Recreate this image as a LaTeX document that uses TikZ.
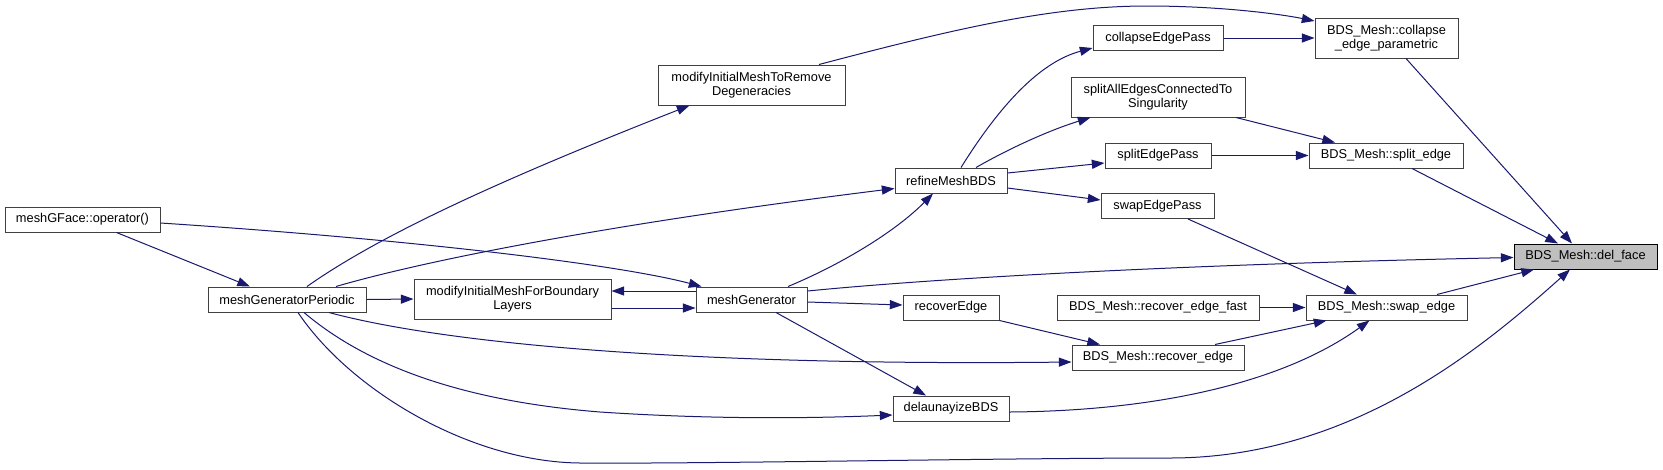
\documentclass[tikz,border=0pt]{standalone}
\usepackage{fontspec}
\setmainfont{Liberation Sans}
\usetikzlibrary{arrows.meta,calc}
\definecolor{edgecol}{HTML}{191970}
\definecolor{bordercol}{HTML}{404040}
\definecolor{rootfill}{HTML}{BFBFBF}
\begin{document}
\begin{tikzpicture}[x=0.75pt,y=-0.75pt,
  bx/.style 2 args={draw=bordercol, line width=0.75pt, fill=white, inner sep=0pt,
    minimum width=#1*0.75pt, minimum height=#2*0.75pt, align=center,
    font=\fontsize{9.6}{10.6}\selectfont},
  rootbx/.style 2 args={bx={#1}{#2}, draw=black, fill=rootfill},
  e/.style={draw=edgecol, line width=0.75pt, -{Triangle[length=9.5pt,width=6.8pt]}}]
\useasboundingbox (0,0) rectangle (1663,469);
\fill[white] (0,0) rectangle (1663,469);
% nodes
\node[bx={155}{25}] (opr) at (82.5,219.5) {meshGFace::operator()};
\node[bx={158}{25}] (mgp) at (287,299.5) {meshGeneratorPeriodic};
\node[bx={197}{40}] (mbl) at (512.5,299) {modifyInitialMeshForBoundary\\Layers};
\node[bx={187}{40}] (mrd) at (751.5,85) {modifyInitialMeshToRemove\\Degeneracies};
\node[bx={111}{25}] (mg) at (751.5,299.5) {meshGenerator};
\node[bx={112}{25}] (rmb) at (951,180.5) {refineMeshBDS};
\node[bx={96}{25}] (re) at (951,307.5) {recoverEdge};
\node[bx={116}{25}] (dl) at (951,408.5) {delaunayizeBDS};
\node[bx={130}{25}] (cep) at (1158,38) {collapseEdgePass};
\node[bx={174}{40}] (sae) at (1158,97) {splitAllEdgesConnectedTo\\Singularity};
\node[bx={106}{25}] (sep) at (1158,155.5) {splitEdgePass};
\node[bx={113}{25}] (swp) at (1157.5,206) {swapEdgePass};
\node[bx={202}{25}] (ref) at (1158,307.5) {BDS\_Mesh::recover\_edge\_fast};
\node[bx={172}{25}] (rec) at (1158,357.5) {BDS\_Mesh::recover\_edge};
\node[bx={143}{40}] (cp) at (1386.5,38) {BDS\_Mesh::collapse\\\_edge\_parametric};
\node[bx={154}{25}] (se) at (1386,155.5) {BDS\_Mesh::split\_edge};
\node[bx={161}{25}] (sw) at (1386.5,307.5) {BDS\_Mesh::swap\_edge};
\node[rootbx={143}{25}] (df) at (1585.5,256.5) {BDS\_Mesh::del\_face};
% edges
\draw[e] ($(opr.south)+(34,0)$) -- ($(mgp.north)+(-37,0)$);
\draw[e] ($(opr.east)+(0,3.5)$) .. controls (420,240) and (620,265) .. ($(mg.north)+(-50,0)$);
\draw[e] ($(mgp.north)+(20,0)$) .. controls (380,235) and (500,180) .. ($(mrd.south)+(-62,0)$);
\draw[e] ($(mgp.north)+(49,0)$) .. controls (420,262) and (600,225) .. ($(rmb.west)+(0,8)$);
\draw[e] (mgp.east) -- (mbl.west);
\draw[e] ($(mgp.south)+(42,0)$) .. controls (450,345) and (700,366) .. ($(rec.west)+(0,4.5)$);
\draw[e] ($(mgp.south)+(17,0)$) .. controls (360,360) and (450,400) .. (600,412)
  .. controls (720,420) and (820,418) .. ($(dl.west)+(0,6.5)$);
\draw[e] ($(mgp.south)+(11,0)$) .. controls (350,390) and (470,462) .. (580,463)
  .. controls (700,464) and (1000,458) .. (1170,458)
  .. controls (1350,458) and (1480,350) .. ($(df.south)+(-15.5,0)$);
\draw[e] ($(mg.west)+(0,-8.5)$) -- ($(mbl.east)+(0,-8)$);
\draw[e] ($(mbl.east)+(0,9)$) -- ($(mg.west)+(0,8.5)$);
\draw[e] ($(mg.north)+(36.5,0)$) .. controls (840,265) and (895,232) .. ($(rmb.south)+(-18,0)$);
\draw[e] ($(mg.east)+(0,-8.5)$) .. controls (950,277) and (1200,264) .. ($(df.west)+(0,1)$);
\draw[e] ($(mg.east)+(0,2.5)$) -- ($(re.west)+(0,-2.5)$);
\draw[e] ($(mg.south)+(24.5,0)$) -- ($(dl.north)+(-25,0)$);
\draw[e] (re.south east) -- ($(rec.north)+(-58,0)$);
\draw[e] ($(rec.north)+(57,0)$) -- ($(sw.south)+(-60,0)$);
\draw[e] (ref.east) -- (sw.west);
\draw[e] ($(dl.east)+(0,3.5)$) .. controls (1150,411) and (1280,385) .. ($(sw.south)+(-17,0)$);
\draw[e] ($(swp.south)+(30.5,0)$) -- ($(sw.north)+(-29.5,0)$);
\draw[e] ($(sw.north)+(50.5,0)$) -- ($(df.south)+(-51.5,0)$);
\draw[e] ($(se.south)+(26,0)$) -- ($(df.north)+(-27.5,0)$);
\draw[e] ($(cp.south)+(19.5,0)$) -- ($(df.north)+(-13.5,0)$);
\draw[e] (sep.east) -- (se.west);
\draw[e] ($(sae.south)+(78,0)$) -- ($(se.north)+(-51,0)$);
\draw[e] (cep.east) -- (cp.west);
\draw[e] ($(mrd.north)+(67.5,0)$) .. controls (950,30) and (1050,6) .. (1147,6)
  .. controls (1220,6) and (1280,14) .. ($(cp.west)+(0,-17)$);
\draw[e] ($(rmb.north)+(10,0)$) .. controls (1000,105) and (1040,62) .. ($(cep.west)+(0,10)$);
\draw[e] ($(rmb.north)+(25,0)$) .. controls (1010,148) and (1050,130) .. ($(sae.south west)+(20,0)$);
\draw[e] ($(rmb.east)+(0,-7.5)$) -- ($(sep.west)+(0,7.5)$);
\draw[e] ($(rmb.east)+(0,7.5)$) -- ($(swp.west)+(0,-6)$);
\end{tikzpicture}
\end{document}
